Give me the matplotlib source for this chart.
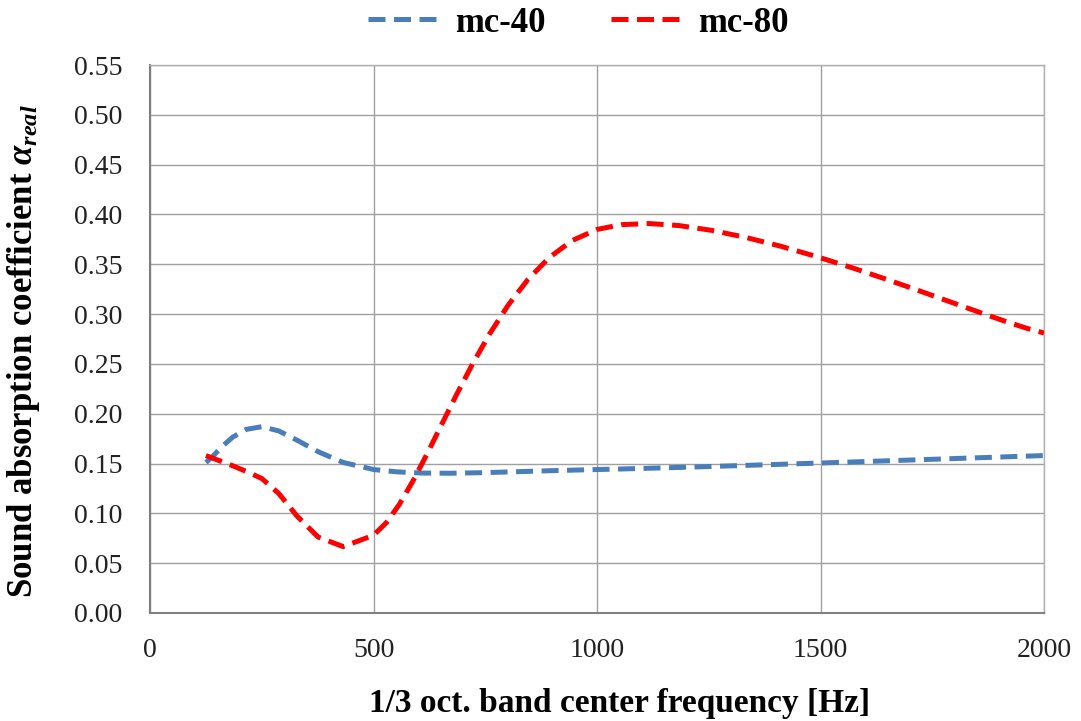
import matplotlib
matplotlib.use("Agg")
import matplotlib.pyplot as plt
from matplotlib.lines import Line2D
import numpy as np

# Octave band centre frequencies [Hz] and measured absorption
freq = [125, 250, 500, 1000, 2000]
mc40 = [0.151, 0.187, 0.144, 0.144, 0.158]
mc80 = [0.158, 0.135, 0.078, 0.385, 0.281]

series_names = ["mc-40", "mc-80"]
series_colors = ["#4a7ebb", "#ff0000"]

xticks = [0, 500, 1000, 1500, 2000]
yticks = np.arange(0, 0.551, 0.05)


def smooth_line(ax, x, y, seg_px=30):
    """Spreadsheet-style smoothed line: cubic Bezier through every point.
    Each curve piece is split into chunks of roughly seg_px pixels so the
    dash pattern stays visible along the bends."""
    pts = np.column_stack([x, y]).astype(float)
    disp = ax.transData.transform(pts)
    n = len(pts)
    out = [pts[:1]]
    for i in range(n - 1):
        p_prev = pts[max(i - 1, 0)]
        p0 = pts[i]
        p1 = pts[i + 1]
        p_next = pts[min(i + 2, n - 1)]
        c1 = p0 + (p1 - p_prev) / 6.0
        c2 = p1 - (p_next - p0) / 6.0
        length = np.hypot(*(disp[i + 1] - disp[i]))
        steps = max(5, int(round(length / seg_px))) + 1
        t = np.linspace(0, 1, steps)[:, None]
        seg = ((1 - t) ** 3 * p0 + 3 * (1 - t) ** 2 * t * c1
               + 3 * (1 - t) * t ** 2 * c2 + t ** 3 * p1)
        out.append(seg[1:])
    curve = np.vstack(out)
    return curve[:, 0], curve[:, 1]


plt.rcParams["font.family"] = ["Liberation Serif", "DejaVu Serif"]
plt.rcParams["mathtext.fontset"] = "custom"
plt.rcParams["mathtext.it"] = "Liberation Serif:italic:bold"
plt.rcParams["mathtext.rm"] = "Liberation Serif:bold"
plt.rcParams["path.simplify"] = False

fig = plt.figure(figsize=(10.81, 7.21), dpi=100)
ax = fig.add_axes([0.1388, 0.1498, 0.8270, 0.7600])
ax.set_xlim(0, 2000)
ax.set_ylim(0, 0.55)

dash = (0, (3.4, 1.7))
lw = 3.6
handles = []
for ys, name, col in zip([mc40, mc80], series_names, series_colors):
    cx, cy = smooth_line(ax, freq, ys)
    ax.plot(cx, cy, color=col, linewidth=lw, linestyle=dash,
            dash_capstyle="butt", dash_joinstyle="miter", zorder=3)
    handles.append(Line2D([], [], color=col, linewidth=lw, linestyle=dash,
                          dash_capstyle="butt"))

ax.set_xlim(0, 2000)
ax.set_ylim(0, 0.55)
ax.set_xticks(xticks)
ax.set_yticks(yticks)
ax.set_yticklabels(["%.2f" % v for v in yticks])
ax.tick_params(length=0, labelsize=20, colors="#222222")
ax.tick_params(axis="x", pad=18)
ax.tick_params(axis="y", pad=20)
ax.grid(True, color="#a0a0a0", linewidth=1.0)
ax.set_axisbelow(True)
for side in ["top", "right"]:
    ax.spines[side].set_color("#b0b0b0")
    ax.spines[side].set_linewidth(1.0)
for side in ["left", "bottom"]:
    ax.spines[side].set_color("#808080")
    ax.spines[side].set_linewidth(1.5)

ax.set_xlabel("1/3 oct. band center frequency [Hz]", fontsize=24,
              fontweight="bold")
ax.xaxis.set_label_coords(0.525, -0.137)
ax.set_ylabel(r"Sound absorption coefficient $\mathit{\alpha_{real}}$",
              fontsize=25, fontweight="bold")
ax.yaxis.set_label_coords(-0.121, 0.478)

fig.legend(handles, series_names, loc="center", bbox_to_anchor=(0.535, 0.968),
           ncol=2, frameon=False, handlelength=2.1, handletextpad=0.4,
           columnspacing=1.9, prop={"size": 25, "weight": "bold"})

fig.savefig("out.png", dpi=100)
